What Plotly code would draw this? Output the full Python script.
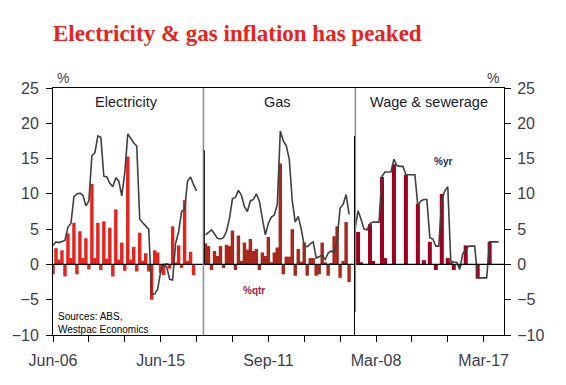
import numpy as np
import plotly.graph_objects as go

# ---------------- data ----------------
elec_yr = [2.7, 3.2, 3.1, 3.2, 3.4, 5.3, 5.8, 9.6, 10.0, 10.1, 9.8, 8.3, 9.0, 15.4, 15.8, 18.2,
           18.0, 12.5, 12.4, 11.5, 11.0, 12.3, 11.8, 9.7, 13.0, 18.5, 17.8, 17.2, 16.8, 6.4,
           5.9, 5.5, 5.0, -4.2, -4.2, -3.5, -1.0, 0.0, -0.3, -2.1, -2.2, 3.0, 4.6, 7.5, 7.8,
           11.8, 12.4, 11.3, 10.4]
elec_qtr = [-1.4, 2.3, 0.7, 2.0, -1.7, 4.4, 0.9, 5.9, -1.4, 4.7, 0.9, 3.7, -0.7, 11.4, 0.9, 5.9,
            -0.8, 6.1, 0.8, 5.2, -1.7, 7.8, 0.7, 3.1, -0.9, 15.3, 0.7, 2.5, -1.0, 4.5, 0.5, 1.6,
            -1.0, -5.0, 2.0, 1.7, -1.2, -1.5, 0.2, -0.6, 5.4, 0.3, 2.7, -0.5, 9.1, 0.5, 1.8,
            -1.5, 0.0]

gas_yr = [4.2, 4.6, 4.9, 4.3, 3.7, 3.6, 3.8, 4.7, 6.5, 9.3, 9.5, 10.5, 9.8, 8.2, 7.5, 9.0,
          9.2, 10.0, 9.0, 6.5, 4.2, 5.8, 6.7, 7.0, 8.5, 18.9, 17.5, 16.8, 14.9, 9.0, 6.0, 6.8,
          5.0, 2.7, 2.5, 2.9, 3.2, 0.9, 1.1, 1.3, 0.7, 1.6, 1.9, 1.7, 3.5, 8.0, 8.5, 9.9, 7.1]
gas_qtr = [3.0, 2.6, -0.8, 1.9, 1.2, 2.6, -0.5, 2.8, 2.6, 4.8, -0.8, 4.1, 0.5, 3.1, 2.1, 3.6,
           1.9, 2.2, -0.8, 1.7, 1.2, 3.9, 0.3, 1.7, 2.4, 14.3, -1.4, 1.1, 1.1, 5.0, -1.6, 2.2,
           0.4, 3.1, -1.6, 0.9, 0.9, -1.6, -1.4, 3.1, 0.3, -1.6, 0.2, 4.0, 5.4, -1.9, 0.5, 6.0,
           -2.5]

wage_yr = [5.0, 7.6, 6.4, 5.0, 4.9, 5.8, 6.0, 6.0, 6.0, 12.5, 13.1, 13.1, 13.1, 14.9, 14.0,
           13.9, 13.9, 12.7, 12.7, 12.7, 12.7, 8.3, 9.0, 9.2, 9.2, 3.8, 3.6, 2.6, 2.6, 9.2,
           10.4, 11.0, 0.5, 0.3, 0.3, -0.7, 1.5, 2.1, 2.6, 2.6, 2.6, -1.9, -1.9, -1.9, -1.9,
           3.2, 3.2, 3.2, 3.2]
wage_qtr = [0, 4.6, 0.3, 0, 0, 5.7, 0.5, 0, 0, 12.4, 0.9, 0, 0, 14.2, 0, 0, 0, 12.7, 0, 0, 0,
            8.6, 0, 0.6, 0, 3.2, 0, -0.8, 0, 10.0, 0, 0.9, 0.3, -0.8, 0, -0.3, 0, 2.7, 0, 0, 0,
            -2.0, 0, 0, 0, 3.2, 0, 0, 0]

panel_names = ["Electricity", "Gas", "Wage & sewerage"]
tick_labels = ["Jun-06", "", "", "Jun-15", "", "", "Sep-11", "", "", "Mar-08", "", "", "Mar-17"]
y_ticks = [25, 20, 15, 10, 5, 0, -5, -10]

# x positions: one slot per quarter, the three panels laid side by side
elec_x = np.arange(len(elec_yr))
gas_x = np.arange(len(gas_yr)) + 51
wage_x = np.arange(len(wage_yr)) + 101
tick_x = np.arange(len(tick_labels)) * 12

# ---------------- figure ----------------
W, H = 566, 385
OFF = 8  # page body margin
L, R, T, B = 53.4, 504.3, 88, 335  # plot area in window pixels


def px(xp):
    return (xp - L) / (R - L)


def py(yp):
    return (B - yp) / (B - T)


fig = go.Figure()
bar_w = 1.15
fig.add_trace(go.Bar(x=elec_x, y=elec_qtr, marker_color="#e8231c", width=bar_w, marker_line_width=0))
fig.add_trace(go.Bar(x=gas_x, y=gas_qtr, marker_color="#a8291c", width=bar_w, marker_line_width=0))
fig.add_trace(go.Bar(x=wage_x, y=wage_qtr, marker_color="#a0001f", width=1.35, marker_line_width=0))
for xs, ys in [(elec_x, elec_yr), (gas_x, gas_yr), (wage_x, wage_yr)]:
    fig.add_trace(go.Scatter(x=xs, y=ys, mode="lines", line=dict(color="#404040", width=1.6)))

tickfont = dict(family="Liberation Sans, Arial", size=16, color="#3c3c4c")
fig.update_layout(
    width=W, height=H,
    margin=dict(l=L - OFF, r=W + OFF - R, t=T - OFF, b=H + OFF - B, pad=0),
    paper_bgcolor="white", plot_bgcolor="white",
    showlegend=False, barmode="overlay",
    xaxis=dict(range=[0, 150.8], tickvals=tick_x, ticktext=tick_labels, ticks="outside",
               ticklen=6, tickcolor="black", showline=True, linecolor="black", linewidth=1,
               mirror=True, showgrid=False, zeroline=False, tickfont=tickfont,
               ticklabelstandoff=5, automargin=False),
    yaxis=dict(range=[-10, 25], tickvals=y_ticks, ticks="outside", ticklen=6, tickcolor="black",
               showline=True, linecolor="black", linewidth=1, showgrid=False, zeroline=False,
               tickfont=tickfont, ticklabelstandoff=4, automargin=False),
    yaxis2=dict(range=[-10, 25], tickvals=y_ticks, ticks="outside", ticklen=6, tickcolor="black",
                showline=True, linecolor="black", linewidth=1, showgrid=False, zeroline=False,
                overlaying="y", side="right", tickfont=tickfont, ticklabelstandoff=3,
                automargin=False),
)
# invisible trace to show the right axis
fig.add_trace(go.Scatter(x=[0], y=[0], yaxis="y2", mode="markers", marker=dict(opacity=0),
                         hoverinfo="skip"))

# zero line and panel dividers
fig.add_shape(type="line", xref="paper", yref="y", x0=0, x1=1, y0=0, y1=0,
              line=dict(color="black", width=1.3), layer="above")
fig.add_shape(type="line", xref="x", yref="paper", x0=50.3, x1=50.3, y0=0, y1=1,
              line=dict(color="#8c8c8c", width=1.5), layer="above")
fig.add_shape(type="line", xref="x", yref="y", x0=50.6, x1=50.6, y0=0, y1=16.2,
              line=dict(color="black", width=1), layer="above")
fig.add_shape(type="line", xref="x", yref="paper", x0=101.1, x1=101.1, y0=py(312), y1=1,
              line=dict(color="#8c8c8c", width=1.5), layer="above")
fig.add_shape(type="line", xref="x", yref="y", x0=100.8, x1=100.8, y0=-10, y1=18.2,
              line=dict(color="black", width=1), layer="above")

ann_font = dict(family="Liberation Sans, Arial", size=14.5, color="#1a1a2e")
for name, cx in zip(panel_names, [127, 278, 429]):
    fig.add_annotation(text=name, xref="paper", yref="paper", x=px(cx), y=py(102),
                       showarrow=False, font=ann_font, xanchor="center", yanchor="middle")

fig.add_annotation(text="<b>Electricity & gas inflation has peaked</b>", xref="paper", yref="paper",
                   x=px(51), y=py(33), showarrow=False, xanchor="left", yanchor="middle",
                   font=dict(family="Liberation Serif, Times New Roman", size=23, color="#e8231c"))
fig.add_annotation(text="%", xref="paper", yref="paper", x=px(63), y=py(78), showarrow=False,
                   xanchor="center", yanchor="middle", font=dict(family="Liberation Sans", size=14, color="#3c3c4c"))
fig.add_annotation(text="%", xref="paper", yref="paper", x=px(493), y=py(78), showarrow=False,
                   xanchor="center", yanchor="middle", font=dict(family="Liberation Sans", size=14, color="#3c3c4c"))
fig.add_annotation(text="<b>%yr</b>", xref="paper", yref="paper", x=px(443.5), y=py(161.5),
                   showarrow=False, xanchor="center", yanchor="middle",
                   font=dict(family="Liberation Sans", size=10, color="#1b2a6b"))
fig.add_annotation(text="<b>%qtr</b>", xref="paper", yref="paper", x=px(254.5), y=py(290),
                   showarrow=False, xanchor="center", yanchor="middle",
                   font=dict(family="Liberation Sans", size=10, color="#9e1b45"))
fig.add_annotation(text="Sources: ABS,<br>Westpac Economics", xref="paper", yref="paper",
                   x=px(56), y=py(322.5), showarrow=False, xanchor="left", yanchor="middle",
                   align="left", font=dict(family="Liberation Sans", size=10, color="black"))

fig.write_html("out.html")
